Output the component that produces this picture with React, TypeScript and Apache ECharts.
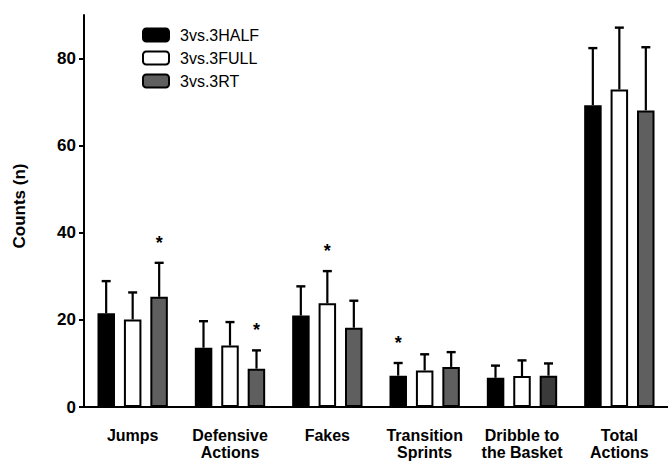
import React, { useEffect, useRef } from "react";
import * as echarts from "echarts";

const categories = ["Jumps", "Defensive\nActions", "Fakes", "Transition\nSprints", "Dribble to\nthe Basket", "Total\nActions"];
const seriesNames = ["3vs.3HALF", "3vs.3FULL", "3vs.3RT"];
const halfMean = [21.5, 13.6, 21.0, 7.2, 6.7, 69.3];
const halfUpper = [28.9, 19.7, 27.7, 10.1, 9.5, 82.4];
const fullMean = [20.1, 14.1, 23.8, 8.4, 7.1, 72.9];
const fullUpper = [26.3, 19.5, 31.2, 12.1, 10.7, 87.1];
const rtMean = [25.3, 8.8, 18.2, 9.2, 7.2, 68.1];
const rtUpper = [33.1, 13.0, 24.4, 12.6, 10.0, 82.6];
const halfStars = [3];
const fullStars = [2];
const rtStars = [0, 1];
const yTicks = [0, 20, 40, 60, 80];

const FONT = "'Liberation Sans', Arial, sans-serif";
const BAR_W = 17.5;
const SPACING = 26.5;

export default function App() {
  const ref = useRef<HTMLDivElement>(null);
  useEffect(() => {
    const chart = echarts.init(ref.current!, null, { renderer: "svg" });
    const colors = ["#000000", "#ffffff", "#5f5f5f"];
    const means = [halfMean, fullMean, rtMean];
    const uppers = [halfUpper, fullUpper, rtUpper];
    const stars = [halfStars, fullStars, rtStars];

    const barSeries = means.map((m, si) => ({
      name: seriesNames[si],
      type: "bar",
      barWidth: BAR_W,
      barGap: "51%",
      itemStyle: { color: colors[si], borderColor: "#000", borderWidth: 2 },
      data: m.map((v, ci) =>
        si === 2 && ci === 4 ? { value: v, itemStyle: { color: "#3a3a3a" } } : v
      ),
      z: 2,
    }));

    const errSeries = means.map((m, si) => ({
      type: "custom",
      name: "err" + si,
      z: 5,
      data: m.map((v, ci) => [ci, v, uppers[si][ci], stars[si].includes(ci) ? 1 : 0]),
      renderItem: (params: any, api: any) => {
        const ci = api.value(0);
        const base = api.coord([ci, api.value(1)]);
        const top = api.coord([ci, api.value(2)]);
        const x = base[0] + (si - 1) * SPACING;
        const children: any[] = [
          { type: "line", shape: { x1: x, y1: base[1], x2: x, y2: top[1] }, style: { stroke: "#000", lineWidth: 2.2 } },
          { type: "line", shape: { x1: x - 4.5, y1: top[1], x2: x + 4.5, y2: top[1] }, style: { stroke: "#000", lineWidth: 2.4 } },
        ];
        if (api.value(3) === 1) {
          children.push({
            type: "text",
            x: x,
            y: top[1] - 20,
            style: { text: "*", font: `bold 18px ${FONT}`, fill: "#000", align: "center", verticalAlign: "middle" },
          });
        }
        return { type: "group", children };
      },
    }));

    chart.setOption({
      animation: false,
      backgroundColor: "#fff",
      grid: { left: 84, top: 15, width: 588, height: 393.3 },
      legend: {
        data: seriesNames,
        orient: "vertical",
        left: 137,
        top: 21,
        itemWidth: 26,
        itemHeight: 13,
        itemGap: 5,
        textStyle: { fontFamily: FONT, fontSize: 16, color: "#000", padding: [0, 0, 0, 6], lineHeight: 18 },
      },
      xAxis: {
        type: "category",
        data: categories,
        axisLine: { lineStyle: { color: "#000", width: 2 } },
        axisTick: { show: false },
        axisLabel: { fontFamily: FONT, fontWeight: "bold", fontSize: 16, color: "#000", margin: 20, lineHeight: 17, interval: 0 },
      },
      yAxis: {
        type: "value",
        min: 0,
        max: 90,
        interval: 20,
        splitLine: { show: false },
        axisLine: { show: true, lineStyle: { color: "#000", width: 2 } },
        axisTick: { show: true, length: 5, lineStyle: { color: "#000", width: 2 }, customValues: yTicks },
        axisLabel: { fontFamily: FONT, fontWeight: "bold", fontSize: 17, color: "#000", margin: 8, customValues: yTicks },
      },
      graphic: [
        {
          type: "text",
          x: 19,
          y: 206,
          rotation: Math.PI / 2,
          style: { text: "Counts (n)", font: `bold 17px ${FONT}`, fill: "#000", align: "center", verticalAlign: "middle" },
        },
      ],
      series: [...barSeries, ...errSeries],
    });
    return () => chart.dispose();
  }, []);
  return <div ref={ref} style={{ position: "fixed", left: 0, top: 0, width: 668, height: 461, background: "#fff" }} />;
}
